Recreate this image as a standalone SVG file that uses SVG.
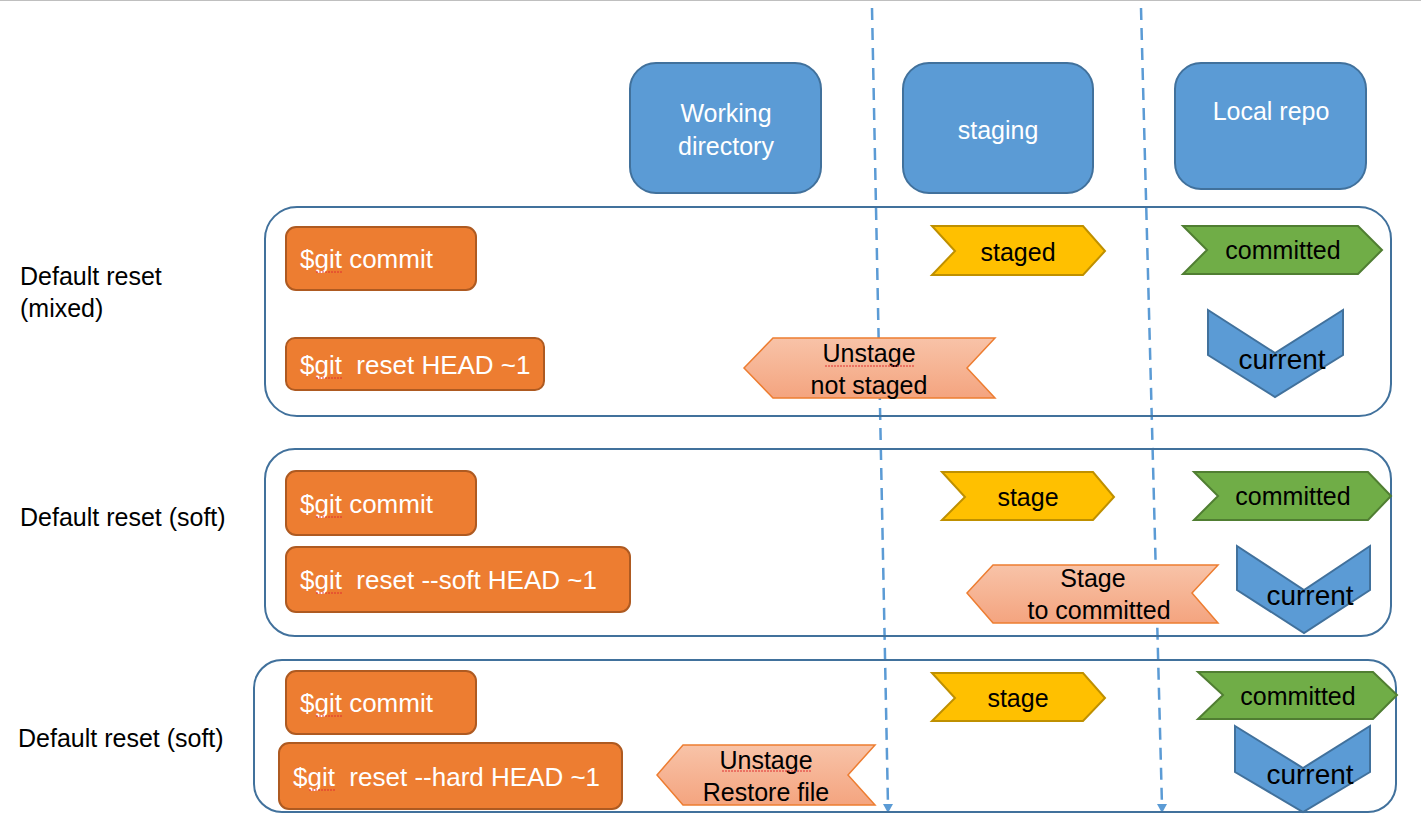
<svg xmlns="http://www.w3.org/2000/svg" width="1421" height="825" viewBox="0 0 1421 825">
<style>
text{font-family:"Liberation Sans",Arial,sans-serif;font-size:25px}
.hdr{fill:#5B9BD5;stroke:#41719C;stroke-width:2}
.hdrt{fill:#fff;text-anchor:middle}
.grp{fill:none;stroke:#41719C;stroke-width:2}
.cmd{fill:#ED7D31;stroke:#AE5A21;stroke-width:2}
.cmdt{fill:#fff;font-size:26px}
.yel{fill:#FFC000;stroke:#BF9000;stroke-width:2}
.grn{fill:#70AD47;stroke:#507E32;stroke-width:2}
.cur{fill:#5B9BD5;stroke:#41719C;stroke-width:2}
.curt{fill:#000;text-anchor:middle;font-size:28px}
.pnk{fill:url(#pg);stroke:#ED7D31;stroke-width:1.5}
.lbl{fill:#000}
.mid{fill:#000;text-anchor:middle}
.dash{stroke:#5B9BD5;stroke-width:2.5;stroke-dasharray:12 8;fill:none}
.sq{fill:none;stroke:#E03030;stroke-width:1;stroke-dasharray:2 1}
</style>
<defs>
<linearGradient id="pg" x1="0" y1="0" x2="0" y2="1">
<stop offset="0" stop-color="#F8C3A8"/>
<stop offset="1" stop-color="#F4A47F"/>
</linearGradient>
</defs>
<rect width="1421" height="825" fill="#fff"/>
<line x1="0" y1="0.5" x2="1421" y2="0.5" stroke="#BFBFBF" stroke-width="1"/>

<g id="connectors">
<line class="dash" x1="872" y1="8" x2="888" y2="806"/>
<path d="M883,804 L893,804 L888,813 Z" fill="#5B9BD5"/>
<line class="dash" x1="1141" y1="8" x2="1162" y2="806"/>
<path d="M1157,804 L1167,804 L1162,813 Z" fill="#5B9BD5"/>
</g>

<g id="hdr-working">
<rect class="hdr" x="630" y="63" width="191" height="130" rx="26"/>
<text class="hdrt" x="726" y="122">Working</text>
<text class="hdrt" x="726" y="155">directory</text>
</g>
<g id="hdr-staging">
<rect class="hdr" x="903" y="63" width="190" height="130" rx="26"/>
<text class="hdrt" x="998" y="139">staging</text>
</g>
<g id="hdr-local">
<rect class="hdr" x="1175" y="63" width="191" height="126" rx="26"/>
<text class="hdrt" x="1271" y="120">Local repo</text>
</g>

<g id="group-mixed">
<rect class="grp" x="265" y="207" width="1126" height="209" rx="32"/>
<text class="lbl" x="20" y="285">Default reset</text>
<text class="lbl" x="20" y="317">(mixed)</text>
</g>
<g id="group-soft">
<rect class="grp" x="265" y="449" width="1126" height="187" rx="30"/>
<text class="lbl" x="20" y="526">Default reset (soft)</text>
</g>
<g id="group-hard">
<rect class="grp" x="254" y="660" width="1142" height="152" rx="28"/>
<text class="lbl" x="18" y="747">Default reset (soft)</text>
</g>

<g id="cmd1">
<rect class="cmd" x="286" y="227" width="190" height="63" rx="10"/>
<text class="cmdt" x="300" y="268">$git commit</text>
<path class="sq" d="M316,272 h27"/>
</g>
<g id="cmd2">
<rect class="cmd" x="286" y="338" width="258" height="52" rx="9"/>
<text class="cmdt" x="300" y="374" xml:space="preserve">$git  reset HEAD ~1</text>
<path class="sq" d="M316,378 h27"/>
</g>
<g id="cmd3">
<rect class="cmd" x="286" y="471" width="190" height="64" rx="10"/>
<text class="cmdt" x="300" y="513">$git commit</text>
<path class="sq" d="M316,517 h27"/>
</g>
<g id="cmd4">
<rect class="cmd" x="286" y="547" width="344" height="65" rx="10"/>
<text class="cmdt" x="300" y="589" xml:space="preserve">$git  reset --soft HEAD ~1</text>
<path class="sq" d="M316,593 h27"/>
</g>
<g id="cmd5">
<rect class="cmd" x="286" y="671" width="190" height="63" rx="10"/>
<text class="cmdt" x="300" y="712">$git commit</text>
<path class="sq" d="M316,716 h27"/>
</g>
<g id="cmd6">
<rect class="cmd" x="279" y="743" width="343" height="66" rx="10"/>
<text class="cmdt" x="293" y="786" xml:space="preserve">$git  reset --hard HEAD ~1</text>
<path class="sq" d="M309,790 h27"/>
</g>

<g id="staged1">
<polygon class="yel" points="932,226 1083,226 1105,251 1083,275 932,275 955,251"/>
<text class="mid" x="1018" y="261">staged</text>
</g>
<g id="stage2">
<polygon class="yel" points="942,472 1093,472 1114,497 1093,520 942,520 965,497"/>
<text class="mid" x="1028" y="506">stage</text>
</g>
<g id="stage3">
<polygon class="yel" points="932,673 1083,673 1105,698 1083,721 932,721 955,698"/>
<text class="mid" x="1018" y="707">stage</text>
</g>

<g id="committed1">
<polygon class="grn" points="1183,226 1358,226 1382,250 1358,274 1183,274 1207,250"/>
<text class="mid" x="1283" y="259">committed</text>
</g>
<g id="committed2">
<polygon class="grn" points="1194,472 1368,472 1391,496 1368,520 1194,520 1218,496"/>
<text class="mid" x="1293" y="505">committed</text>
</g>
<g id="committed3">
<polygon class="grn" points="1198,672 1373,672 1397,695 1373,719 1198,719 1223,695"/>
<text class="mid" x="1298" y="705">committed</text>
</g>

<g id="current1">
<polygon class="cur" points="1208,310 1275,353 1343,310 1343,355 1275,397 1208,355"/>
<text class="curt" x="1282" y="369">current</text>
</g>
<g id="current2">
<polygon class="cur" points="1237,546 1304,590 1370,546 1370,590 1304,633 1237,590"/>
<text class="curt" x="1310" y="605">current</text>
</g>
<g id="current3">
<polygon class="cur" points="1235,726 1303,768 1370,726 1370,772 1303,812 1235,772"/>
<text class="curt" x="1310" y="784">current</text>
</g>

<g id="unstage1">
<polygon class="pnk" points="744,368 773,338 995,338 967,368 995,398 773,398"/>
<text class="mid" x="869" y="362">Unstage</text>
<text class="mid" x="869" y="394">not staged</text>
<path class="sq" d="M825,366 h90"/>
</g>
<g id="stage-back2">
<polygon class="pnk" points="967,593 993,565 1218,565 1192,593 1218,623 993,623"/>
<text class="mid" x="1093" y="587">Stage</text>
<text class="mid" x="1099" y="619">to committed</text>
</g>
<g id="unstage3">
<polygon class="pnk" points="657,775 683,745 875,745 848,775 875,805 683,805"/>
<text class="mid" x="766" y="769">Unstage</text>
<text class="mid" x="766" y="801">Restore file</text>
<path class="sq" d="M722,771 h90"/>
</g>
</svg>
